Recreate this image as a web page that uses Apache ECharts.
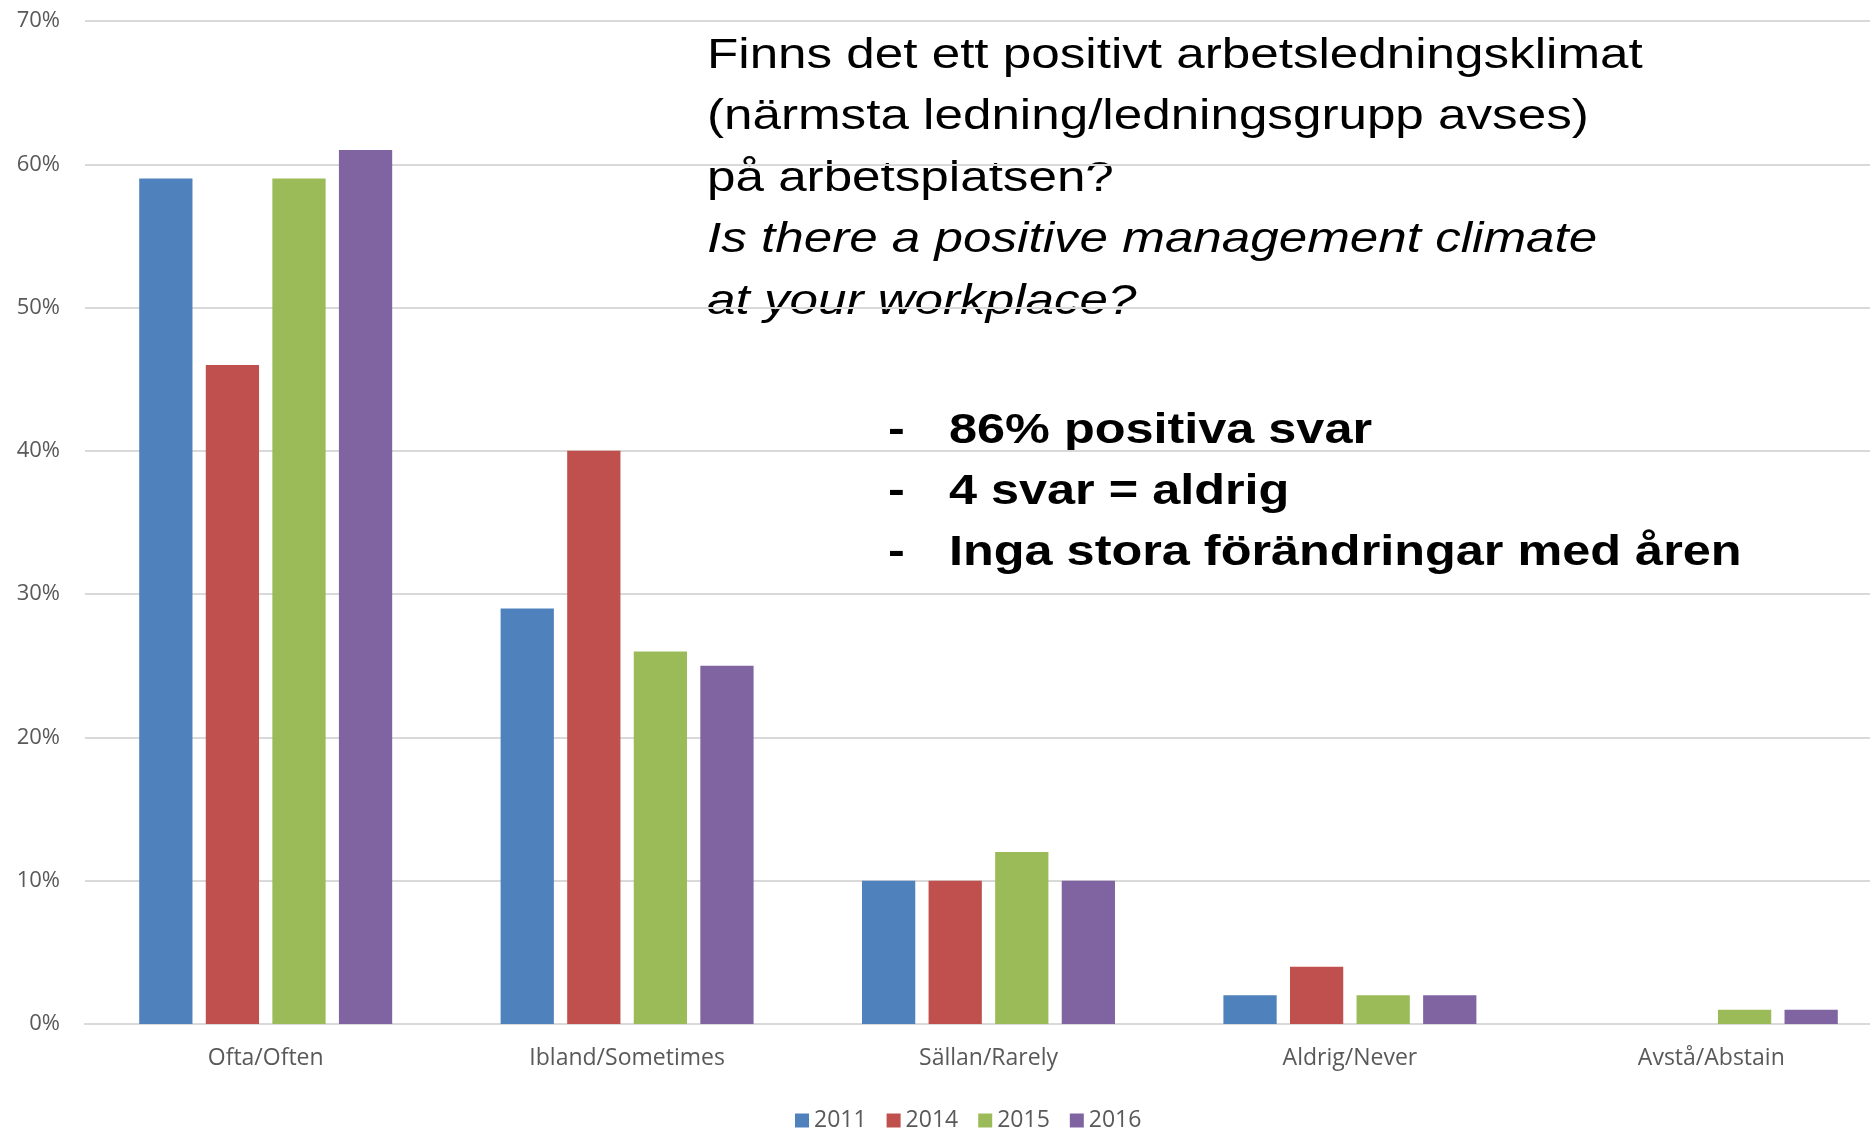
<!DOCTYPE html>
<html>
<head>
<meta charset="utf-8">
<script src="https://cdn.jsdelivr.net/npm/echarts@6/dist/echarts.min.js"></script>
<style>
  html, body { margin: 0; padding: 0; background: #fff; overflow: hidden; }
  /* plottytan går lite utanför bildens högerkant i originalet */
  #chart { width: 1892px; height: 1129px; }
</style>
</head>
<body>
<div id="chart"></div>
<script>
  // svarskategorier
  var categories = ['Ofta/Often', 'Ibland/Sometimes', 'Sällan/Rarely', 'Aldrig/Never', 'Avstå/Abstain']
  var years = ['2011', '2014', '2015', '2016']
  var v2011 = [59, 29, 10, 2, 0]
  var v2014 = [46, 40, 10, 4, 0]
  var v2015 = [59, 26, 12, 2, 1]
  var v2016 = [61, 25, 10, 2, 1]
  var colors = ['#4f81bd', '#c0504d', '#9bbb59', '#8064a2']

  var questionLines = [
    'Finns det ett positivt arbetsledningsklimat',
    '(närmsta ledning/ledningsgrupp avses)',
    'på arbetsplatsen?',
    'Is there a positive management climate',
    'at your workplace?'
  ]
  var bullets = ['86% positiva svar', '4 svar = aldrig', 'Inga stora förändringar med åren']

  var chart = echarts.init(document.getElementById('chart'))

  var allValues = [v2011, v2014, v2015, v2016]
  var series = []
  for (var i = 0; i < years.length; i++) {
    series.push({
      name: years[i],
      type: 'bar',
      barCategoryGap: '30%',
      barGap: '25%',
      itemStyle: { color: colors[i] },
      data: allValues[i]
    })
  }

  // textrutan uppe till höger (bred text, som i bilden)
  var graphics = []
  for (var j = 0; j < questionLines.length; j++) {
    graphics.push({
      type: 'text',
      x: 707,
      y: 56 + j * 61.5,
      scaleX: 1.19,
      style: {
        text: questionLines[j],
        font: (j >= 3 ? 'italic ' : '') + '43px "Liberation Sans", Arial, sans-serif',
        fill: '#000',
        textVerticalAlign: 'middle'
      }
    })
  }
  for (var k = 0; k < bullets.length; k++) {
    graphics.push({
      type: 'text',
      x: 888,
      y: 431 + k * 61,
      scaleX: 1.2,
      style: {
        text: '-',
        font: 'bold 42px "Liberation Sans", Arial, sans-serif',
        fill: '#000',
        textVerticalAlign: 'middle'
      }
    })
    graphics.push({
      type: 'text',
      x: 949,
      y: 431 + k * 61,
      scaleX: 1.2,
      style: {
        text: bullets[k],
        font: 'bold 42px "Liberation Sans", Arial, sans-serif',
        fill: '#000',
        textVerticalAlign: 'middle'
      }
    })
  }

  chart.setOption({
    animation: false,
    color: colors,
    grid: {
      left: 85,
      right: 0,
      top: 21,
      bottom: 105,
      containLabel: false
    },
    legend: {
      left: 790,
      top: 1104,
      icon: 'rect',
      itemWidth: 14,
      itemHeight: 14,
      itemGap: 20,
      textStyle: {
        color: '#595959',
        fontSize: 23,
        fontFamily: 'Open Sans'
      },
      data: years
    },
    xAxis: {
      type: 'category',
      data: categories,
      axisLine: { lineStyle: { color: '#d9d9d9', width: 2 } },
      axisTick: { show: false },
      axisLabel: {
        color: '#595959',
        fontSize: 23,
        fontFamily: 'Open Sans',
        margin: 23
      }
    },
    yAxis: {
      type: 'value',
      min: 0,
      max: 70,
      interval: 10,
      axisLine: { show: false },
      axisTick: { show: false },
      splitLine: { lineStyle: { color: '#d9d9d9', width: 2 } },
      axisLabel: {
        color: '#595959',
        fontSize: 22,
        fontFamily: 'Open Sans',
        margin: 25,
        padding: [4, 0, 0, 0],
        formatter: '{value}%'
      }
    },
    series: series,
    graphic: graphics
  })
</script>
</body>
</html>
